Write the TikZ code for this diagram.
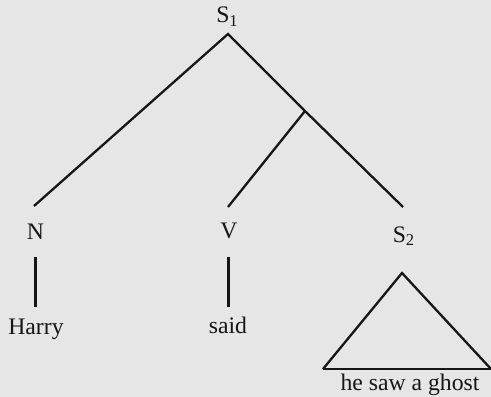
\documentclass[tikz,border=0pt]{standalone}
\usepackage{fontspec}
\setmainfont{Liberation Serif}
\definecolor{bg}{RGB}{230,230,230}
\definecolor{ink}{RGB}{22,22,22}
\begin{document}
\begin{tikzpicture}[x=1pt,y=-1pt,
  lbl/.style={anchor=base,inner sep=0pt,text=ink,font=\fontsize{23.7}{26}\selectfont},
  branch/.style={draw=ink,line width=2.3pt}]
\fill[bg] (0,0) rectangle (491,397);
\useasboundingbox (0,0) rectangle (491,397);
% labels
\node[lbl] (s1) at (227,22.5) {S\raisebox{-3.5pt}{\fontsize{16.5}{18}\selectfont 1}};
\node[lbl] (n) at (35.5,239) {N};
\node[lbl] (v) at (229,238.5) {V};
\node[lbl] (s2) at (403.5,242) {S\raisebox{-3.5pt}{\fontsize{16.5}{18}\selectfont 2}};
\node[lbl] (harry) at (36,334) {Harry};
\node[lbl] (said) at (228,333) {said};
\node[lbl] (ghost) at (410,390) {he saw a ghost};
% branch points
\coordinate (top) at (228,34);
\coordinate (jn) at (305,111);
\coordinate (nend) at (34,206);
\coordinate (vend) at (228,207);
\coordinate (s2end) at (403,207);
\coordinate (nt) at (35.5,257);
\coordinate (nb) at (35.5,307);
\coordinate (vt) at (228.5,257);
\coordinate (vb) at (228.5,307);
\coordinate (tapex) at (402,273);
\coordinate (tl) at (323,369);
\coordinate (tr) at (491,369);
% connectors
\draw[branch] (nend) -- (top) -- (jn) -- (s2end);
\draw[branch] (jn) -- (vend);
\draw[branch] (nt) -- (nb);
\draw[branch] (vt) -- (vb);
\draw[branch,line join=miter] (tr) -- (tapex) -- (tl);
\draw[draw=ink,line width=2.8pt] (tl) -- (tr);
\end{tikzpicture}
\end{document}
